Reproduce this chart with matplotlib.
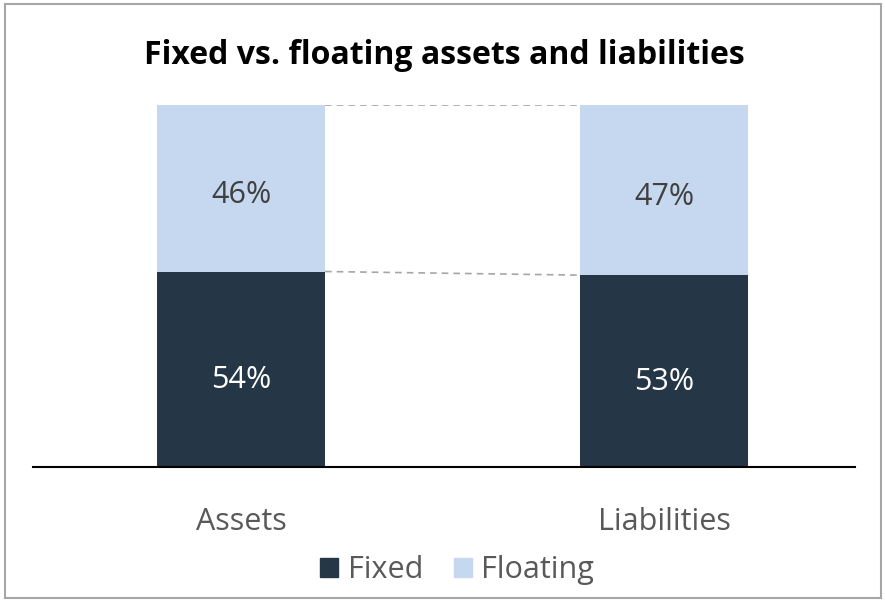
import numpy as np
import matplotlib.pyplot as plt
from matplotlib.patches import Rectangle, Patch

plt.rcParams['font.family'] = ['Open Sans', 'DejaVu Sans']

categories = ['Assets', 'Liabilities']
fixed = [54, 53]
floating = [46, 47]
series_names = ['Fixed', 'Floating']

dark = '#253646'
light = '#C6D8F0'

W, H = 885, 600
fig = plt.figure(figsize=(W / 100, H / 100), dpi=100)

# outer frame
fig.patches.append(Rectangle((5 / W, 2 / H), 876 / W, 594 / H, transform=fig.transFigure,
                             fill=False, edgecolor='#A6A6A6', linewidth=1.5))

ax = fig.add_axes([33 / W, 1 - 467 / H, 822 / W, 362 / H])
x = np.arange(len(categories))
width = 0.397
ax.bar(x, fixed, width, color=dark, label=series_names[0])
ax.bar(x, floating, width, bottom=fixed, color=light, label=series_names[1])

# connector lines between the bars
for y0, y1 in [(fixed[0], fixed[1]), (100, 100)]:
    ax.plot([x[0] + width / 2, x[1] - width / 2], [y0, y1], ls=(0, (4, 3)),
            color='#A6A6A6', lw=1.2)

for i in range(len(categories)):
    ax.text(x[i], fixed[i] / 2 - 2, f'{fixed[i]}%', ha='center', va='center_baseline',
            color='white', fontsize=22)
    ax.text(x[i], fixed[i] + floating[i] / 2 - 1, f'{floating[i]}%', ha='center',
            va='center_baseline', color='#404040', fontsize=22)

ax.set_xlim(-0.492, 1.4515)
ax.set_ylim(0, 100)
for s in ['top', 'right', 'left']:
    ax.spines[s].set_visible(False)
ax.spines['bottom'].set_linewidth(1.5)
ax.spines['bottom'].set_color('black')
ax.set_yticks([])
ax.set_xticks(x)
ax.set_xticklabels(categories, fontsize=22, color='#595959')
ax.tick_params(axis='x', length=0, pad=29)

fig.text(444 / W, 1 - 55 / H, 'Fixed vs. floating assets and liabilities',
         ha='center', va='center', fontsize=23, fontweight='bold', color='black')

handles = [Patch(color=dark), Patch(color=light)]
fig.legend(handles, series_names, loc='center', bbox_to_anchor=(457 / W, 1 - 570 / H),
           ncol=2, frameon=False, fontsize=22, labelcolor='#595959',
           handlelength=0.6, handleheight=0.6, handletextpad=0.3, columnspacing=1.0)

fig.savefig('out.png', dpi=100)
